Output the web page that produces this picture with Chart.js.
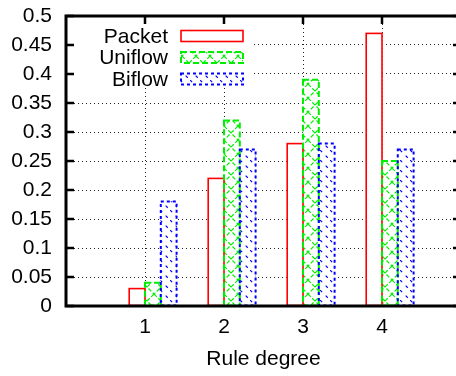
<!DOCTYPE html>
<html>
<head>
<meta charset="utf-8">
<script src="https://cdn.jsdelivr.net/npm/chart.js@4.4.0/dist/chart.umd.min.js"></script>
<style>
html, body { margin: 0; padding: 0; overflow: hidden; background: #fff; }
</style>
</head>
<body>
<canvas id="ruleChart" width="470" height="376"></canvas>
<script>
// rule degree vs. share of rules
var degrees = [1, 2, 3, 4];
var packet = [0.03, 0.22, 0.28, 0.47];
var uniflow = [0.04, 0.32, 0.39, 0.25];
var biflow = [0.18, 0.27, 0.28, 0.27];
var yTicks = [0, 0.05, 0.1, 0.15, 0.2, 0.25, 0.3, 0.35, 0.4, 0.45, 0.5];
var xTitle = 'Rule degree';

var FONT = { family: '"Liberation Sans", Arial, sans-serif', size: 21 };

// white tile with diagonal strokes, used as bar fill
function hatch(color, size, cross, dash) {
    var c = document.createElement('canvas');
    c.width = size;
    c.height = size;
    var g = c.getContext('2d');
    g.fillStyle = '#fff';
    g.fillRect(0, 0, size, size);
    g.strokeStyle = color;
    g.lineWidth = 1.2;
    g.setLineDash(dash);
    g.beginPath();
    g.moveTo(0, 0);
    g.lineTo(size, size);
    if (cross) {
        g.moveTo(size, 0);
        g.lineTo(0, size);
    }
    g.stroke();
    return g.createPattern(c, 'repeat');
}

// each series sits at its own offset from the degree
function points(values, shift) {
    return values.map(function (v, i) {
        return { x: degrees[i] + shift, y: v };
    });
}

var frame = {
    id: 'frame',
    beforeDatasetsDraw: function (chart) {
        var ctx = chart.ctx, a = chart.chartArea;
        var xs = chart.scales.x, ys = chart.scales.y;
        ctx.save();
        // key area is kept clear of the grid
        ctx.fillStyle = '#fff';
        ctx.fillRect(a.left, a.top, 188, 72);
        // tick marks pointing inward on all sides
        ctx.strokeStyle = '#000';
        ctx.lineWidth = 2.5;
        ctx.beginPath();
        ys.ticks.forEach(function (t) {
            var py = ys.getPixelForValue(t.value);
            ctx.moveTo(a.left, py); ctx.lineTo(a.left + 8, py);
            ctx.moveTo(a.right - 8, py); ctx.lineTo(a.right, py);
        });
        xs.ticks.forEach(function (t) {
            var px = xs.getPixelForValue(t.value);
            ctx.moveTo(px, a.top); ctx.lineTo(px, a.top + 8);
            ctx.moveTo(px, a.bottom); ctx.lineTo(px, a.bottom - 8);
        });
        ctx.stroke();
        ctx.restore();
    },
    afterDatasetsDraw: function (chart) {
        var ctx = chart.ctx, a = chart.chartArea;
        ctx.save();
        // bar outlines (solid, dashed, dotted)
        chart.data.datasets.forEach(function (ds, i) {
            ctx.strokeStyle = ds.outlineColor;
            ctx.lineWidth = ds.outlineWidth;
            ctx.setLineDash(ds.outlineDash);
            chart.getDatasetMeta(i).data.forEach(function (bar) {
                var p = bar.getProps(['x', 'y', 'base', 'width'], true);
                ctx.strokeRect(p.x - p.width / 2, p.y, p.width, p.base - p.y);
            });
        });
        // key: right-aligned names with a sample box
        ctx.font = FONT.size + 'px ' + FONT.family;
        ctx.textAlign = 'right';
        ctx.textBaseline = 'middle';
        chart.data.datasets.forEach(function (ds, i) {
            var cy = a.top + 20 + i * 21.5;
            ctx.setLineDash([]);
            ctx.fillStyle = '#000';
            ctx.fillText(ds.label, a.left + 102, cy + 1);
            ctx.fillStyle = ds.backgroundColor;
            ctx.fillRect(a.left + 115, cy - 5.5, 62, 11);
            ctx.strokeStyle = ds.outlineColor;
            ctx.lineWidth = ds.outlineWidth;
            ctx.setLineDash(ds.outlineDash);
            ctx.strokeRect(a.left + 115, cy - 5.5, 62, 11);
        });
        // plot border
        ctx.setLineDash([]);
        ctx.strokeStyle = '#000';
        ctx.lineWidth = 3;
        ctx.strokeRect(a.left, a.top, a.right - a.left, a.bottom - a.top);
        ctx.restore();
    }
};

var ctx = document.getElementById('ruleChart').getContext('2d');
var ruleChart = new Chart(ctx, {
    type: 'bar',
    data: {
        datasets: [
            {
                label: 'Packet',
                data: points(packet, -0.1),
                backgroundColor: '#fff',
                borderWidth: 0,
                outlineColor: '#ff0000',
                outlineWidth: 1.6,
                outlineDash: []
            },
            {
                label: 'Uniflow',
                data: points(uniflow, 0.1),
                backgroundColor: hatch('#00ee00', 14, true, [4, 2]),
                borderWidth: 0,
                outlineColor: '#00ee00',
                outlineWidth: 2,
                outlineDash: [6, 3]
            },
            {
                label: 'Biflow',
                data: points(biflow, 0.3),
                backgroundColor: hatch('#0000ff', 10, false, [3, 5]),
                borderWidth: 0,
                outlineColor: '#0000ff',
                outlineWidth: 2,
                outlineDash: [3, 3]
            }
        ]
    },
    options: {
        responsive: false,
        animation: false,
        devicePixelRatio: 1,
        layout: { padding: { top: 16, right: 9, left: 0, bottom: 0 } },
        plugins: {
            legend: { display: false },
            tooltip: { enabled: false }
        },
        datasets: {
            bar: { grouped: false, categoryPercentage: 1, barPercentage: 1 }
        },
        scales: {
            x: {
                type: 'linear',
                offset: false,
                min: 0,
                max: 5,
                afterBuildTicks: function (s) {
                    s.ticks = degrees.map(function (v) { return { value: v }; });
                },
                afterFit: function (s) {
                    s.height = 70;
                    s.paddingLeft = 0;
                    s.paddingRight = 0;
                },
                ticks: {
                    callback: function (v) { return String(v); },
                    autoSkip: false,
                    font: FONT,
                    color: '#000',
                    padding: 9,
                    maxRotation: 0
                },
                grid: { color: '#222', drawTicks: false, offset: false },
                border: { display: false, dash: [1, 3] },
                title: {
                    display: true,
                    text: xTitle,
                    font: FONT,
                    color: '#000',
                    padding: { top: 4, bottom: 4 }
                }
            },
            y: {
                min: 0,
                max: 0.5,
                afterBuildTicks: function (s) {
                    s.ticks = yTicks.map(function (v) { return { value: v }; });
                },
                afterFit: function (s) {
                    s.width = 66;
                    s.paddingTop = 0;
                    s.paddingBottom = 0;
                },
                ticks: {
                    callback: function (v) { return String(v); },
                    autoSkip: false,
                    font: FONT,
                    color: '#000',
                    padding: 14
                },
                grid: { color: '#222', drawTicks: false },
                border: { display: false, dash: [1, 3] }
            }
        }
    },
    plugins: [frame]
});
</script>
</body>
</html>
